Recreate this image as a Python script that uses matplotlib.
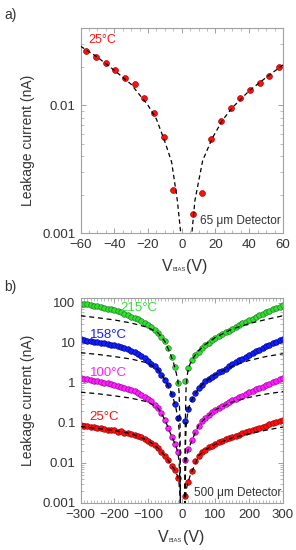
import matplotlib
matplotlib.use("Agg")
import matplotlib.pyplot as plt
from matplotlib.ticker import MultipleLocator, LogLocator, NullFormatter, FixedLocator, FixedFormatter

plt.rcParams['font.family'] = ['Liberation Sans', 'DejaVu Sans']

# ---- panel a: 65 um detector, 25 C ----
va_pts = [-56.6, -50.6, -45.0, -39.4, -33.6, -27.8, -22.2, -16.4, -10.8, -5.2,
          6.4, 12.0, 17.6, 23.4, 29.2, 34.8, 40.4, 46.2, 51.8, 57.4]
ia_pts = [0.0265, 0.0238, 0.0213, 0.0188, 0.0165, 0.0146, 0.0115, 0.00871, 0.00563, 0.00217,
          0.00141, 0.00208, 0.00547, 0.00755, 0.00953, 0.0115, 0.0131, 0.0149, 0.0171, 0.0198]
# dashed fit
fa_vneg = [-60, -50, -40, -30, -20, -15, -10, -6, -2.6, -0.6, -0.2]
fa_ineg = [0.029, 0.0238, 0.0188, 0.0146, 0.0100, 0.0078, 0.0052, 0.0036, 0.0018, 0.001, 0.0009]
fa_vpos = [5.7, 6, 7.8, 12.4, 18, 24, 30, 40, 50, 60]
fa_ipos = [0.0009, 0.001, 0.0018, 0.0037, 0.0055, 0.0076, 0.0096, 0.0130, 0.0165, 0.0207]

# ---- panel b: 500 um detector ----
vb = list(range(-300, 0, 10)) + list(range(10, 310, 10))
temps = ['25°C', '100°C', '158°C', '215°C']
i_215 = [94, 92, 90, 87, 84, 81, 78, 75, 71, 68, 65, 61, 57, 53, 49, 45, 41, 38, 35, 31,
         28, 24.5, 21, 17.5, 14, 10.8, 7.2, 4.3, 2.4, 1.0,
         1.1, 2.3, 3.6, 4.8, 6.0, 7.3, 8.5, 10.0, 11.5, 13.0, 14.5, 16.2, 18.0, 20, 22.5,
         25, 27.5, 30.5, 33.5, 37, 40, 44, 48, 52, 57, 62, 68, 74, 80, 86]
i_158 = [12.0, 11.7, 11.3, 11.0, 10.6, 10.3, 10.0, 9.6, 9.3, 8.9, 8.6, 8.3, 7.9, 7.3, 6.8,
         6.3, 5.7, 5.2, 4.6, 4.1, 3.5, 3.0, 2.6, 2.1, 1.6, 1.2, 0.85, 0.52, 0.30, 0.13,
         0.11, 0.22, 0.38, 0.55, 0.72, 0.90, 1.07, 1.25, 1.42, 1.6, 1.8, 2.0, 2.25, 2.55, 2.85,
         3.2, 3.6, 4.0, 4.5, 5.0, 5.5, 6.1, 6.7, 7.4, 8.1, 8.9, 9.7, 10.6, 11.5, 12.4]
i_100 = [1.30, 1.25, 1.21, 1.16, 1.12, 1.08, 1.04, 1.00, 0.96, 0.92, 0.88, 0.84, 0.80, 0.75, 0.70,
         0.66, 0.62, 0.56, 0.50, 0.45, 0.40, 0.34, 0.28, 0.23, 0.17, 0.12, 0.075, 0.045, 0.030, 0.018,
         0.012, 0.022, 0.036, 0.060, 0.085, 0.11, 0.13, 0.155, 0.18, 0.21, 0.235, 0.26, 0.29, 0.32, 0.36,
         0.39, 0.43, 0.47, 0.52, 0.57, 0.62, 0.68, 0.74, 0.80, 0.87, 0.95, 1.03, 1.12, 1.21, 1.30]
i_25 = [0.087, 0.084, 0.081, 0.079, 0.076, 0.074, 0.072, 0.069, 0.067, 0.064, 0.065, 0.060, 0.061, 0.055, 0.054,
        0.052, 0.050, 0.046, 0.043, 0.039, 0.035, 0.031, 0.027, 0.023, 0.019, 0.015, 0.0115, 0.0085, 0.0065, 0.0042,
        0.0015, 0.0033, 0.0062, 0.011, 0.015, 0.018, 0.021, 0.024, 0.026, 0.029, 0.032, 0.035, 0.038, 0.041, 0.044,
        0.047, 0.050, 0.054, 0.058, 0.062, 0.066, 0.070, 0.075, 0.080, 0.085, 0.091, 0.097, 0.103, 0.109, 0.115]

fb_vneg = [-300, -250, -200, -150, -100, -70, -50, -35, -25, -18, -12, -8, -5, -3.5]
fb_vpos = [9, 10.5, 13, 16, 20, 25, 35, 50, 70, 100, 150, 200, 250, 300]
fneg_215 = [47, 42, 37, 31, 24, 17.5, 10.8, 5.6, 3.3, 2.0, 1.2, 0.6, 0.08, 0.0005]
fneg_158 = [5.6, 5.1, 4.5, 3.9, 3.1, 2.1, 1.2, 0.68, 0.4, 0.25, 0.14, 0.07, 0.012, 0.0005]
fneg_100 = [0.58, 0.53, 0.47, 0.41, 0.33, 0.23, 0.12, 0.058, 0.037, 0.027, 0.019, 0.011, 0.003, 0.0005]
fneg_25 = [0.080, 0.072, 0.064, 0.053, 0.036, 0.023, 0.015, 0.0100, 0.0074, 0.0060, 0.0045, 0.0030, 0.0015, 0.0005]
fpos_215 = [0.0005, 0.1, 0.8, 1.5, 2.3, 3.0, 4.3, 6.3, 9.0, 13.5, 22, 30, 38, 47]
fpos_158 = [0.0005, 0.02, 0.08, 0.14, 0.22, 0.30, 0.45, 0.72, 1.07, 1.6, 2.6, 3.6, 4.5, 5.3]
fpos_100 = [0.0005, 0.005, 0.012, 0.017, 0.022, 0.028, 0.045, 0.085, 0.13, 0.21, 0.33, 0.43, 0.52, 0.60]
fpos_25 = [0.0005, 0.0012, 0.002, 0.0027, 0.0035, 0.0048, 0.0075, 0.015, 0.021, 0.029, 0.042, 0.053, 0.065, 0.078]

# face, edge colour per series
cols = {'25°C': ('#ff1010', '#a00000'), '100°C': ('#ff20ff', '#a000a0'),
        '158°C': ('#1020ff', '#000090'), '215°C': ('#30e030', '#208020')}

frame = '#a0a0a0'
txt = '#333333'


def style(ax):
    for s in ax.spines.values():
        s.set_color(frame)
        s.set_linewidth(0.8)
    ax.tick_params(which='both', direction='in', top=True, right=True, colors=frame,
                   labelcolor=txt, labelsize=9.5)
    ax.tick_params(which='major', length=3.5, width=0.7)
    ax.tick_params(which='minor', length=2, width=0.5)
    ax.tick_params(axis='x', which='major', pad=4.5)


def vbias_label(x0, y0):
    # V with a tiny BIAS subscript, then (V)
    fig.text(x0, y0, 'V', fontsize=11.5, color=txt, va='baseline')
    fig.text(x0 + 0.034, y0, 'BIAS', fontsize=4.2, color=txt, va='baseline')
    fig.text(x0 + 0.082, y0, '(V)', fontsize=11.5, color=txt, va='baseline')


fig = plt.figure(figsize=(2.96, 5.5), dpi=100)

# panel a
ax1 = fig.add_axes([0.272, 0.576, 0.684, 0.3725])
ax1.plot(va_pts, ia_pts, 'o', ms=4.2, mfc='#ff1010', mec='#b00000', mew=0.5, zorder=2)
ax1.plot(fa_vneg, fa_ineg, '--', color='k', lw=0.9, dashes=(3.5, 2.5), zorder=3)
ax1.plot(fa_vpos, fa_ipos, '--', color='k', lw=0.9, dashes=(3.5, 2.5), zorder=3)
ax1.set_yscale('log')
ax1.set_xlim(-60, 60)
ax1.set_ylim(0.001, 0.04)
ax1.xaxis.set_major_locator(MultipleLocator(20))
ax1.xaxis.set_minor_locator(MultipleLocator(5))
ax1.yaxis.set_major_locator(FixedLocator([0.001, 0.01]))
ax1.yaxis.set_major_formatter(FixedFormatter(['0.001', '0.01']))
ax1.yaxis.set_minor_locator(LogLocator(subs=range(2, 10)))
ax1.yaxis.set_minor_formatter(NullFormatter())
style(ax1)
ax1.set_ylabel('Leakage current (nA)', fontsize=10, color=txt)
ax1.yaxis.set_label_coords(-0.224, 0.455)
vbias_label(0.548, 0.508)
ax1.text(0.037, 0.943, '25°C', color='#ff1010', fontsize=9, transform=ax1.transAxes,
         ha='left', va='center')
ax1.text(0.99, 0.03, '65 μm Detector', color=txt, fontsize=8.5, transform=ax1.transAxes,
         ha='right', va='bottom')
fig.text(0.015, 0.973, 'a)', fontsize=10, color=txt, va='center')

# panel b
ax2 = fig.add_axes([0.272, 0.086, 0.684, 0.372])
series = {'25°C': (i_25, fneg_25, fpos_25), '100°C': (i_100, fneg_100, fpos_100),
          '158°C': (i_158, fneg_158, fpos_158), '215°C': (i_215, fneg_215, fpos_215)}
for t in temps:
    ivals, fneg, fpos = series[t]
    fc, ec = cols[t]
    ax2.plot(vb, ivals, 'o', ms=4.0, mfc=fc, mec=ec, mew=0.5, zorder=2)
    ax2.plot(fb_vneg, fneg, color='k', lw=0.9, dashes=(4, 3), zorder=3)
    ax2.plot(fb_vpos, fpos, color='k', lw=0.9, dashes=(4, 3), zorder=3)
ax2.set_yscale('log')
ax2.set_xlim(-300, 300)
ax2.set_ylim(0.001, 130)
ax2.xaxis.set_major_locator(MultipleLocator(100))
ax2.xaxis.set_minor_locator(MultipleLocator(10))
yt = [0.001, 0.01, 0.1, 1, 10, 100]
ax2.yaxis.set_major_locator(FixedLocator(yt))
ax2.yaxis.set_major_formatter(FixedFormatter(['0.001', '0.01', '0.1', '1', '10', '100']))
ax2.yaxis.set_minor_locator(LogLocator(subs=range(2, 10)))
ax2.yaxis.set_minor_formatter(NullFormatter())
style(ax2)
ax2.set_ylabel('Leakage current (nA)', fontsize=10, color=txt)
ax2.yaxis.set_label_coords(-0.224, 0.5)
vbias_label(0.535, 0.0151)
lab_pos = {'215°C': (-181, 74), '158°C': (-273, 15.5), '100°C': (-273, 1.74), '25°C': (-273, 0.138)}
for t in temps:
    x, y = lab_pos[t]
    ax2.text(x, y, t, color=cols[t][0], fontsize=9.5, ha='left', va='center')
ax2.text(0.99, 0.02, '500 μm Detector', color=txt, fontsize=8.5, transform=ax2.transAxes,
         ha='right', va='bottom')
fig.text(0.015, 0.478, 'b)', fontsize=10, color=txt, va='center')

fig.savefig('out.png', dpi=100)
